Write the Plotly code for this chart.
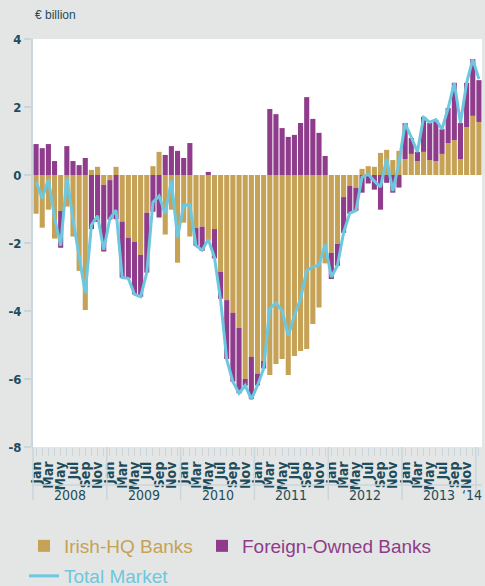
import plotly.graph_objects as go

month_names = ["Jan", "Feb", "Mar", "Apr", "May", "Jun", "Jul", "Aug", "Sep", "Oct", "Nov", "Dec"]
year_labels = ["2008", "2009", "2010", "2011", "2012", "2013", "\u201814"]

# Monthly values, Jan 2008 .. Jan 2014 (€ billion)
irish_hq = [
    -1.14, -1.55, -1.02, -1.87, -1.06, -0.93, -1.81, -2.82, -3.97, 0.15, 0.24, -0.29,
    -0.15, 0.24, -1.37, -1.84, -1.96, -2.35, -1.11, 0.26, 0.68, -1.75, -1.02, -2.58,
    -1.40, -1.81, -1.56, -1.52, -1.93, -1.59, -2.85, -3.68, -4.05, -4.50, -6.00, -5.35,
    -5.85, -5.47, -5.88, -5.56, -5.41, -5.88, -5.32, -5.18, -5.12, -4.38, -3.90, -2.60,
    -2.29, -2.03, -0.65, -0.32, -0.38, 0.18, 0.26, 0.24, 0.65, 0.74, 0.44, 0.71,
    0.47, 0.62, 0.41, 0.68, 0.44, 0.41, 0.62, 0.94, 1.03, 0.47, 1.41, 1.74,
    1.56,
]
foreign_owned = [
    0.91, 0.79, 0.91, 0.41, -1.08, 0.85, 0.41, 0.29, 0.50, -1.59, -1.38, -1.96,
    -1.16, -1.30, -1.65, -1.20, -1.55, -1.23, -1.76, -1.08, -1.25, 0.59, 0.85, 0.71,
    0.50, 0.94, -0.52, -0.71, 0.09, -0.86, -0.79, -1.73, -2.03, -1.92, -0.20, -1.24,
    -0.34, -0.22, 1.94, 1.79, 1.38, 1.12, 1.18, 1.53, 2.29, 1.65, 1.24, 0.56,
    -0.77, -0.64, -1.05, -0.82, -0.67, -0.52, -0.25, -0.43, -1.02, -0.23, -0.52, -0.37,
    1.06, 0.47, 0.27, 1.03, 1.09, 1.21, 0.73, 1.03, 1.68, 1.06, 1.30, 1.67,
    1.23,
]
total_market = [
    -0.20, -0.69, -0.12, -1.25, -2.08, -0.07, -1.30, -2.45, -3.48, -1.47, -1.20, -2.20,
    -1.28, -1.03, -3.02, -3.04, -3.51, -3.58, -2.87, -0.80, -0.62, -1.14, -0.16, -1.83,
    -0.89, -0.88, -2.08, -2.21, -1.90, -2.42, -3.68, -5.43, -6.08, -6.42, -6.19, -6.60,
    -6.19, -5.69, -3.93, -3.76, -3.99, -4.72, -4.13, -3.64, -2.81, -2.70, -2.65, -2.04,
    -3.00, -2.66, -1.69, -1.12, -1.05, -0.06, 0.02, -0.18, -0.35, 0.48, -0.47, 0.36,
    1.52, 1.11, 0.68, 1.69, 1.55, 1.63, 1.35, 1.97, 2.71, 1.53, 2.71, 3.40,
    2.82,
]
y_ticks = [-8, -6, -4, -2, 0, 2, 4]

GOLD = "#c6a256"
PURPLE = "#8e3c8b"
BLUE = "#6dc7df"
TEXT = "#1d4c5c"
AXIS = "#c9d6dc"
BG = "#e4e6e5"
NARROW = "Liberation Sans Narrow, DejaVu Sans Condensed, Arial Narrow, sans-serif"
SANS = "Liberation Sans, Arial, Helvetica, sans-serif"

W, H = 485, 586
ML, MR, MT, MB = 33, 3, 39, 139
H_PLOT = H - MT - MB
W_PLOT = W - ML - MR

n = len(irish_hq)
x = list(range(n))
month_text = [month_names[i % 12] if i % 2 == 0 else "" for i in x]

fig = go.Figure()
fig.add_trace(go.Bar(x=x, y=irish_hq, marker=dict(color=GOLD, line=dict(width=0)),
                     name="<span style='color:%s'>Irish-HQ Banks</span>" % GOLD,
                     legend="legend", showlegend=True))
fig.add_trace(go.Bar(x=x, y=foreign_owned, marker=dict(color=PURPLE, line=dict(width=0)),
                     name="<span style='color:%s'>Foreign-Owned Banks</span>" % PURPLE,
                     legend="legend2", showlegend=True))
fig.add_trace(go.Scatter(x=x, y=total_market, mode="lines", line=dict(color=BLUE, width=3),
                         name="<span style='color:%s'>Total Market</span>" % BLUE,
                         legend="legend3", showlegend=True))


def py(px):
    # pixel row (from top of page) -> paper y
    return (H - MB - px) / H_PLOT


def px_x(px):
    # pixel column (from left of page) -> paper x
    return (px - ML) / W_PLOT


shapes = []
n_years = (n + 11) // 12
for k in range(n_years):
    xp = (12 * k) / n
    shapes.append(dict(type="line", xref="paper", yref="paper", x0=xp, x1=xp,
                       y0=0, y1=py(500), line=dict(color=AXIS, width=1.5)))
shapes.append(dict(type="line", xref="paper", yref="paper", x0=0, x1=1,
                   y0=py(485), y1=py(485), line=dict(color=AXIS, width=1.5)))

annotations = []
for k, lab in enumerate(year_labels):
    start = 12 * k
    end = min(12 * k + 11, n - 1)
    if end > start:
        annotations.append(dict(x=(start + end) / 2, xref="x", y=py(495), yref="paper", text=lab,
                                showarrow=False, xanchor="center", yanchor="middle",
                                font=dict(family=NARROW, size=14, color=TEXT)))
    else:
        annotations.append(dict(x=px_x(W - 0.5), xref="paper", y=py(495), yref="paper",
                                text=lab, showarrow=False, xanchor="right", yanchor="middle",
                                font=dict(family=NARROW, size=14, color=TEXT)))
annotations.append(dict(x=0, xref="paper", y=py(15), yref="paper", text="€ billion",
                        showarrow=False, xanchor="left", yanchor="middle",
                        font=dict(family=SANS, size=12, color=TEXT)))

legend_common = dict(orientation="h", xanchor="left", yanchor="top",
                     font=dict(family=SANS, size=19), bgcolor="rgba(0,0,0,0)")

fig.update_layout(
    width=W, height=H,
    showlegend=True,
    margin=dict(l=ML, r=MR, t=MT, b=MB, autoexpand=False),
    paper_bgcolor=BG, plot_bgcolor="white",
    barmode="relative", bargap=0.17,
    shapes=shapes, annotations=annotations,
    legend=dict(x=px_x(24), y=py(527), **legend_common),
    legend2=dict(x=px_x(202), y=py(527), **legend_common),
    legend3=dict(x=px_x(24), y=py(557), **legend_common),
    xaxis=dict(range=[-0.5, n - 0.5], tickmode="array", tickvals=x, ticktext=month_text,
               tickangle=-90, ticks="outside", ticklen=8, tickcolor=AXIS, tickwidth=1,
               tickfont=dict(family=NARROW, size=14, color=TEXT, weight="bold"),
               showgrid=False, zeroline=False, showline=False, fixedrange=True,
               automargin=False),
    yaxis=dict(range=[-8, 4], tickmode="array", tickvals=y_ticks,
               ticktext=[str(v) for v in y_ticks],
               ticks="outside", ticklen=7, tickcolor=AXIS, tickwidth=1.5,
               tickfont=dict(family=NARROW, size=13, color=TEXT, weight="bold"),
               showgrid=False, zeroline=False, showline=True, linecolor=AXIS, linewidth=2,
               fixedrange=True, automargin=False),
)

fig.write_html("out.html", config={"displayModeBar": False},
               post_script="document.body.style.margin='0';document.body.style.background='%s';" % BG)
